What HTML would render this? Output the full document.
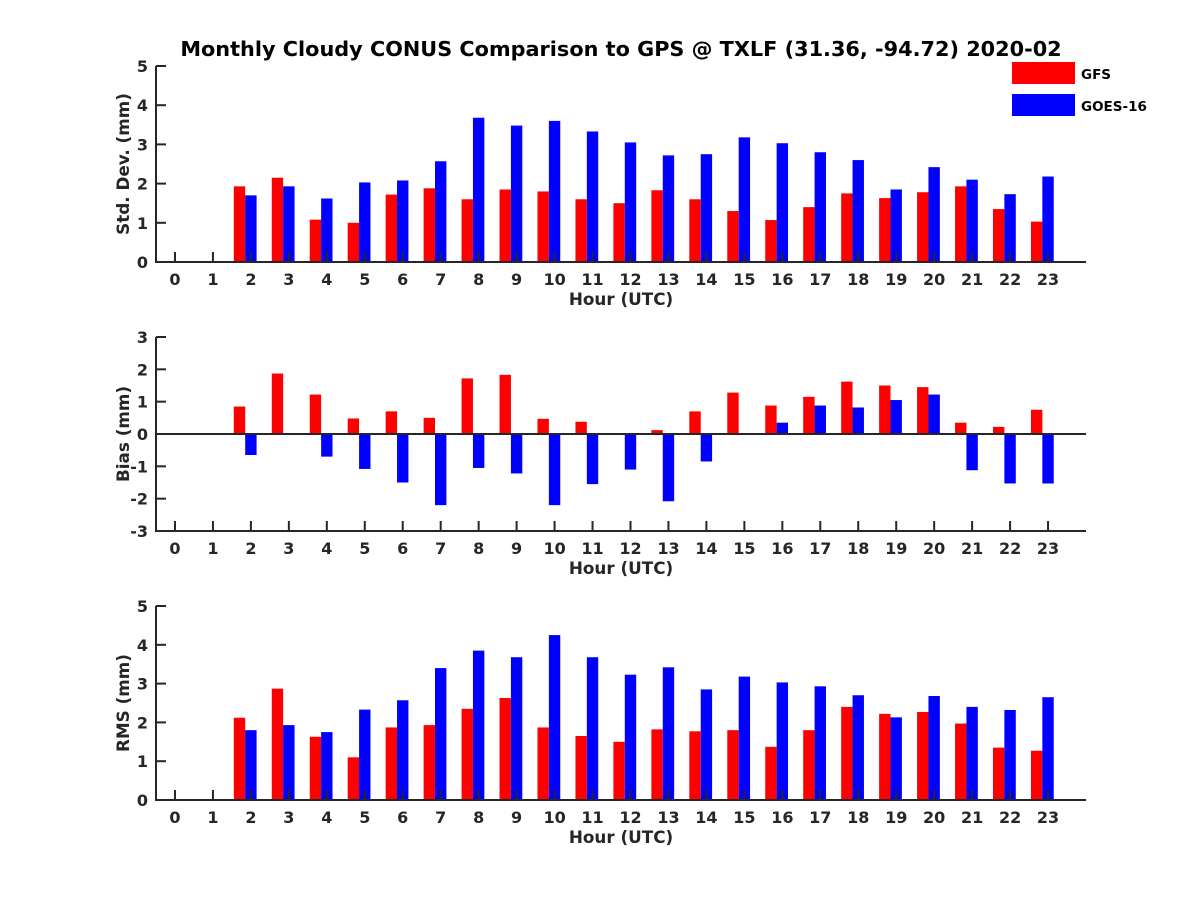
<!DOCTYPE html>
<html><head><meta charset="utf-8"><style>
body{margin:0;background:#fff;}
svg{display:block;font-family:"DejaVu Sans","Liberation Sans",sans-serif;font-weight:bold;}
</style></head><body>
<svg id="chart" width="1200" height="900" viewBox="0 0 1200 900" xmlns="http://www.w3.org/2000/svg">
<rect width="1200" height="900" fill="#fff"/>
<text x="621" y="56" text-anchor="middle" font-size="20.8" fill="#000">Monthly Cloudy CONUS Comparison to GPS @ TXLF (31.36, -94.72) 2020-02</text>
<g>
<rect x="1012" y="62" width="63" height="22" fill="#ff0000"/>
<text x="1081" y="79" font-size="13.5" fill="#000">GFS</text>
<rect x="1012" y="94" width="63" height="22" fill="#0000ff"/>
<text x="1081" y="111" font-size="13.5" fill="#000">GOES-16</text>
</g>
</svg>
<script>
const hours = [0,1,2,3,4,5,6,7,8,9,10,11,12,13,14,15,16,17,18,19,20,21,22,23];
const stdGfs  = [null,null,1.93,2.15,1.08,1.0,1.72,1.88,1.6,1.85,1.8,1.6,1.5,1.83,1.6,1.3,1.07,1.4,1.75,1.63,1.78,1.93,1.35,1.03];
const stdGoes = [null,null,1.7,1.93,1.62,2.03,2.08,2.57,3.68,3.48,3.6,3.33,3.05,2.72,2.75,3.18,3.03,2.8,2.6,1.85,2.42,2.1,1.73,2.18];
const biasGfs  = [null,null,0.85,1.87,1.22,0.48,0.7,0.5,1.72,1.83,0.47,0.38,0.03,0.12,0.7,1.28,0.88,1.15,1.62,1.5,1.45,0.35,0.22,0.75];
const biasGoes = [null,null,-0.65,0,-0.7,-1.08,-1.5,-2.2,-1.05,-1.22,-2.2,-1.55,-1.1,-2.08,-0.85,0,0.35,0.88,0.82,1.05,1.22,-1.12,-1.53,-1.53];
const rmsGfs  = [null,null,2.12,2.87,1.63,1.1,1.87,1.93,2.35,2.63,1.87,1.65,1.5,1.82,1.77,1.8,1.37,1.8,2.4,2.22,2.27,1.97,1.35,1.27];
const rmsGoes = [null,null,1.8,1.93,1.75,2.33,2.57,3.4,3.85,3.68,4.25,3.68,3.23,3.42,2.85,3.18,3.03,2.93,2.7,2.13,2.68,2.4,2.32,2.65];
const stdTicks = [0,1,2,3,4,5];
const biasTicks = [-3,-2,-1,0,1,2,3];
const rmsTicks = [0,1,2,3,4,5];

const NS="http://www.w3.org/2000/svg";
const svg=document.getElementById('chart');
function mk(tag,attrs,parent){const e=document.createElementNS(NS,tag);for(const k in attrs)e.setAttribute(k,attrs[k]);(parent||svg).appendChild(e);return e;}
const X0=156,X1=1086,XMIN=-0.5,XMAX=24;
function xs(v){return X0+(v-XMIN)/(XMAX-XMIN)*(X1-X0);}
const BW=0.3;
const AX='#262626';

function panel(name,top,bottom,ymin,ymax,ticks,gfs,goes,ylabel,zeroLine){
  const g=mk('g',{});
  
  
  const ys=v=>bottom-(v-ymin)/(ymax-ymin)*(bottom-top);
  hours.forEach((h,i)=>{
    [[gfs[i],-BW,'#ff0000','gfs'],[goes[i],0,'#0000ff','goes16']].forEach(([v,off,col,s])=>{
      if(v===null||v===0)return;
      const base=Math.max(ymin,0);
      const y0=ys(base),y1=ys(v);
      const w=xs(BW)-xs(0);
      const r=mk('rect',{x:xs(h+off)-w/2,y:Math.min(y0,y1),width:w,height:Math.abs(y1-y0),fill:col},g);
      
      
    });
  });
  const ax=mk('path',{d:`M${X0} ${top}V${bottom}H${X1}`,stroke:AX,'stroke-width':2,fill:'none'},g);
  
  
  if(zeroLine){
    const z=mk('line',{x1:X0,x2:X1,y1:ys(0),y2:ys(0),stroke:AX,'stroke-width':2},g);
    
    
  }
  ticks.forEach(t=>{
    const y=ys(t);
    mk('line',{x1:X0,x2:X0+10,y1:y,y2:y,stroke:AX,'stroke-width':2},g);
    const tx=mk('text',{x:X0-8,y:y+6,'text-anchor':'end','font-size':16,fill:AX},g);
    tx.textContent=t;
    
    
  });
  hours.forEach(h=>{
    const x=xs(h);
    mk('line',{x1:x,x2:x,y1:bottom,y2:bottom-10,stroke:AX,'stroke-width':2},g);
    const tx=mk('text',{x:x,y:bottom+23,'text-anchor':'middle','font-size':16,fill:AX},g);
    tx.textContent=h;
    
    
  });
  const xl=mk('text',{x:621,y:bottom+43,'text-anchor':'middle','font-size':16.8,fill:AX},g);
  xl.textContent='Hour (UTC)';
  
  
  const cy=(top+bottom)/2;
  const yl=mk('text',{x:0,y:0,'text-anchor':'middle','font-size':16.8,fill:AX,transform:`translate(129 ${cy}) rotate(-90)`},g);
  yl.textContent=ylabel;
  
  
}
panel('std-dev',66,262,0,5,stdTicks,stdGfs,stdGoes,'Std. Dev. (mm)',false);
panel('bias',337,531,-3,3,biasTicks,biasGfs,biasGoes,'Bias (mm)',true);
panel('rms',606,800,0,5,rmsTicks,rmsGfs,rmsGoes,'RMS (mm)',false);
</script>
</body></html>
